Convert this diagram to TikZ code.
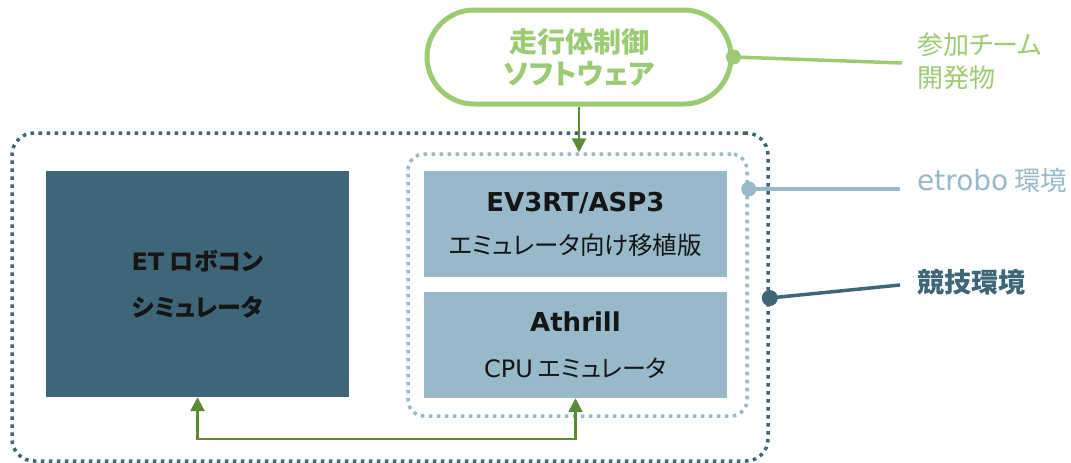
\documentclass[tikz,border=0pt]{standalone}
\usepackage{fontspec}
\setmainfont{DejaVu Sans}
\newfontfamily\jp[RawFeature=+palt]{Noto Sans CJK JP}
\usetikzlibrary{arrows.meta}
\definecolor{lgreen}{HTML}{9DCB73}
\definecolor{dgreen}{HTML}{5A8A33}
\definecolor{tealD}{HTML}{3E6678}
\definecolor{lblue}{HTML}{97B9CA}
\definecolor{ink}{HTML}{151515}
\begin{document}
\begin{tikzpicture}[x=1pt,y=-1pt,
  box/.style={rectangle, minimum width=303pt, minimum height=106pt, inner sep=0pt, align=center, text=ink},
  dotbox/.style={draw, rectangle, inner sep=0pt, line width=3.5pt, dash pattern=on 3.5pt off 4.5pt},
  lab/.style={anchor=west, inner sep=0pt, align=left},
  conn/.style={line width=2.5pt, dgreen, -{Triangle[length=14pt,width=14pt]}},
  leader/.style={line width=3.5pt},
]
\useasboundingbox (0,0) rectangle (1071,463);

% containers
\node[dotbox, tealD, rounded corners=22pt, minimum width=756pt, minimum height=328pt] (comp) at (390,297) {};
\node[dotbox, lblue, rounded corners=16pt, minimum width=339pt, minimum height=262pt] (env) at (577.5,285) {};

% boxes
\node[box, fill=tealD, minimum height=226pt, font=\jp\bfseries\fontsize{24}{46}\selectfont] (sim) at (197.5,284)
  {{\fontspec{DejaVu Sans}\bfseries ET} ロボコン\\シミュレータ};
\node[box, fill=lblue, font=\jp\fontsize{24.5}{43}\selectfont] (ev3) at (575.5,224)
  {{\fontspec{DejaVu Sans}\bfseries\fontsize{26}{43}\selectfont EV3RT/ASP3}\\エミュレータ向け移植版};
\node[box, fill=lblue, font=\jp\fontsize{24}{46}\selectfont] (ath) at (575.5,345)
  {{\fontspec{DejaVu Sans}\bfseries\fontsize{26}{46}\selectfont Athrill}\\{\fontspec{DejaVu Sans}CPU} エミュレータ};

% software
\node[draw=lgreen, line width=5pt, rounded corners=47pt, minimum width=304pt, minimum height=94pt, inner sep=0pt,
      align=center, text=lgreen, font=\jp\bfseries\fontsize{28}{32}\selectfont] (sw) at (579,57)
  {走行体制御\\ソフトウェア};

% arrows
\draw[conn] (sw.south) -- (sw.south |- env.north);
\coordinate (bot) at (385,439);
\draw[line width=2.5pt, dgreen, {Triangle[length=14pt,width=14pt]}-{Triangle[length=14pt,width=14pt]}]
  (sim.south) |- (bot) -| (ath.south);

% labels
\node[lab, text=lgreen, font=\jp\fontsize{26}{33}\selectfont] (l1) at (917,61.5) {参加チーム\\開発物};
\node[lab, text=lblue, font=\jp\fontsize{26.5}{33}\selectfont] (l2) at (917,180) {{\fontspec{DejaVu Sans}\fontsize{28}{33}\selectfont etrobo} 環境};
\node[lab, text=tealD, font=\jp\bfseries\fontsize{27}{33}\selectfont] (l3) at (917,282) {競技環境};

\coordinate (e1) at (902,63);
\coordinate (e2) at (900,189);
\coordinate (e3) at (900,285);
\coordinate (c2) at (env.east |- e2);
\coordinate (c3) at (comp.east |- 0,298);

\draw[leader, lgreen] (sw.east) -- (e1);
\fill[lgreen] (sw.east) circle (7.5pt);
\draw[leader, lblue] (c2) -- (e2);
\fill[lblue] (c2) circle (7.5pt);
\draw[leader, tealD] (c3) -- (e3);
\fill[tealD] (c3) circle (8pt);
\end{tikzpicture}
\end{document}
